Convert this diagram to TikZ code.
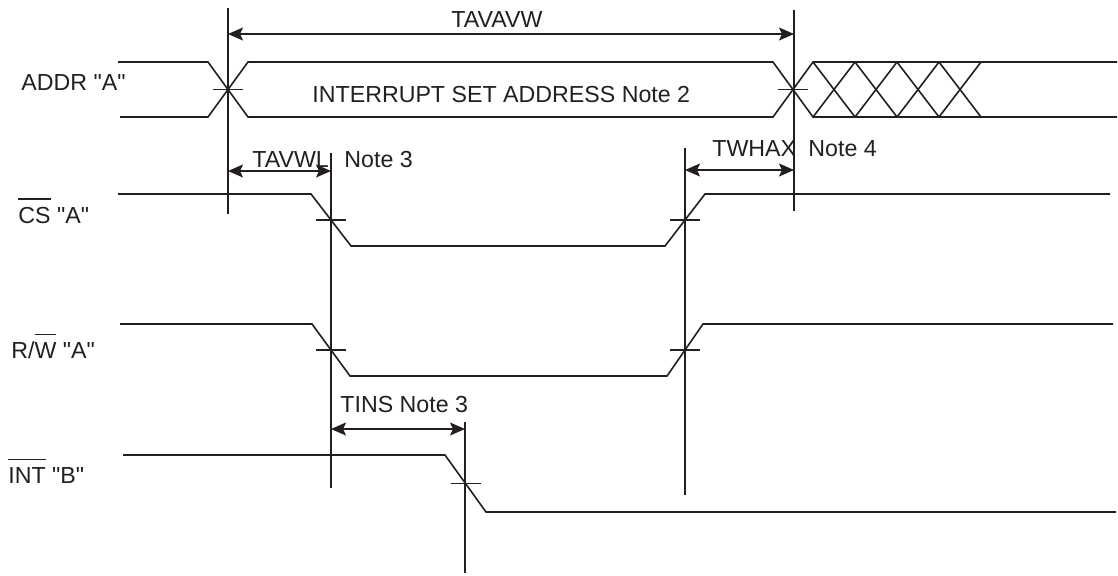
\documentclass[tikz,border=0pt]{standalone}
\usepackage{fontspec}
\setmainfont{Liberation Sans}[Ligatures=TeXOff]
\usetikzlibrary{arrows.meta}
\definecolor{ink}{RGB}{35,31,32}
\newcommand\ovl[1]{\leavevmode\vbox{\hrule height 0.75pt\kern 3.5pt\hbox{#1}}}
\tikzset{
  sig/.style={line width=0.8pt, draw=ink, line join=miter},
  guide/.style={line width=0.8pt, draw=ink},
  dimarrow/.style={line width=0.8pt, draw=ink,
    {Stealth[length=7.5pt,width=6.5pt,inset=1.5pt]}-{Stealth[length=7.5pt,width=6.5pt,inset=1.5pt]}},
  lbl/.style={inner sep=0pt, anchor=base west, text=ink, font=\fontsize{11.6}{13}\selectfont},
}
\newcommand\tck[1]{\draw[sig] (#1) ++(-15,0) -- ++(30,0);}
\begin{document}
\begin{tikzpicture}[x=0.5pt,y=-0.5pt]
\useasboundingbox (0,0) rectangle (1118,575);
% guide coordinates
\coordinate (v1t) at (228,8);   \coordinate (v1b) at (228,214);
\coordinate (v2t) at (794,10);  \coordinate (v2b) at (794,211);
\coordinate (v3t) at (331,153); \coordinate (v3b) at (331,488);
\coordinate (v4t) at (685,148); \coordinate (v4b) at (685,495);
\coordinate (v5t) at (465,422); \coordinate (v5b) at (465,573);
\draw[guide] (v1t) -- (v1b);
\draw[guide] (v2t) -- (v2b);
\draw[guide] (v3t) -- (v3b);
\draw[guide] (v4t) -- (v4b);
\draw[guide] (v5t) -- (v5b);
% dimension arrows
\coordinate (a1l) at (228,34);  \coordinate (a1r) at (794,34);
\coordinate (a2l) at (228,171); \coordinate (a2r) at (331,171);
\coordinate (a3l) at (685,170); \coordinate (a3r) at (794,170);
\coordinate (a4l) at (331,429); \coordinate (a4r) at (465,429);
\draw[dimarrow] (a1l) -- (a1r);
\draw[dimarrow] (a2l) -- (a2r);
\draw[dimarrow] (a3l) -- (a3r);
\draw[dimarrow] (a4l) -- (a4r);
% ADDR waveform
\draw[sig] (118,62) -- (208,62) -- (248,117) -- (773,117) -- (813,62) -- (1117,62);
\draw[sig] (120,117) -- (208,117) -- (248,62) -- (773,62) -- (813,117) -- (1117,117);
\foreach \a in {813,855,897,939}{
  \draw[sig] (\a,62) -- (\a+42,117);
  \draw[sig] (\a,117) -- (\a+42,62);
}
\coordinate (x1) at (228,89.5);
\coordinate (x2) at (793,89.5);
\tck{x1} \tck{x2}
% CS
\draw[sig] (118,194) -- (311,194) -- (351,246) -- (665,246) -- (705,194) -- (1110,194);
\coordinate (c1) at (331,220); \coordinate (c2) at (685,220);
\tck{c1} \tck{c2}
% R/W
\draw[sig] (120,324) -- (312,324) -- (350,376) -- (667,376) -- (703,324) -- (1113,324);
\coordinate (r1) at (331,350); \coordinate (r2) at (685,350);
\tck{r1} \tck{r2}
% INT
\draw[sig] (123,455) -- (445,455) -- (486,512) -- (1116,512);
\coordinate (i1) at (465.5,483.5);
\tck{i1}
% labels
\node[lbl] (laddr) at (21,90) {ADDR "A"};
\node[lbl] (lcs) at (18,223) {\ovl{CS} "A"};
\node[lbl] (lrw) at (11,358) {R/\ovl{W} "A"};
\node[lbl] (lint) at (8,483) {\ovl{INT} "B"};
\node[lbl] (ltavavw) at (451,27) {TAVAVW};
\node[lbl] (ldata) at (312,102) {INTERRUPT SET ADDRESS Note 2};
\node[lbl] (ltavwl) at (252,167) {TAVWL};
\node[lbl] (lnote3a) at (344,167) {Note 3};
\node[lbl] (ltwhax) at (712,156) {TWHAX};
\node[lbl] (lnote4) at (808,156) {Note 4};
\node[lbl] (ltins) at (340,412) {TINS Note 3};
\end{tikzpicture}
\end{document}
